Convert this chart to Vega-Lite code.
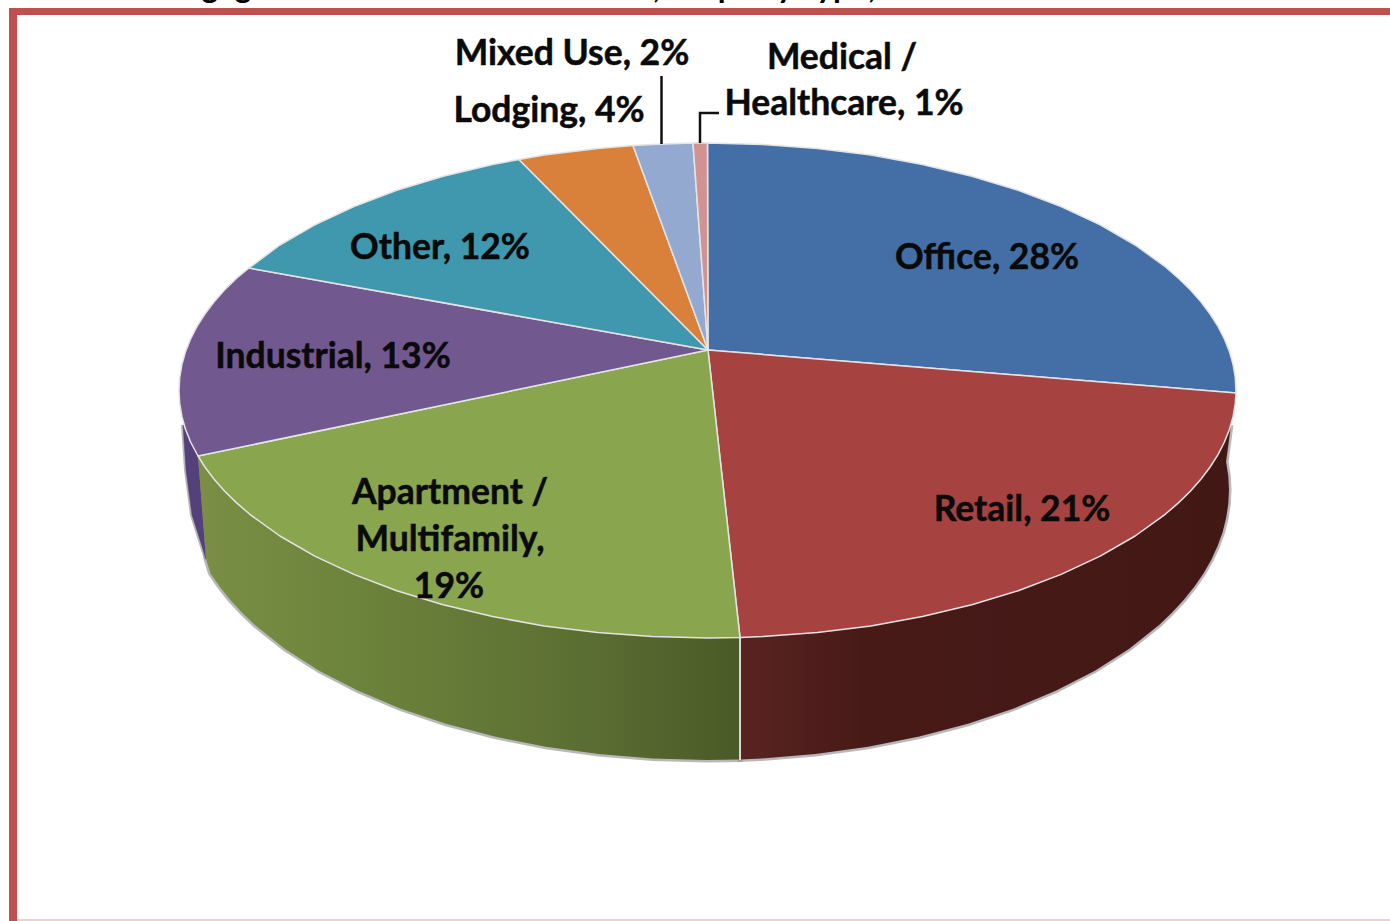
{"$schema":"https://vega.github.io/schema/vega-lite/v6.json","width":1390,"height":921,"padding":0,"autosize":{"type":"none"},"background":"#ffffff","view":{"stroke":null},
"datasets":{
"frame":[{"edge":"top","x":9,"x2":1390,"y":8,"y2":15},{"edge":"left","x":9,"x2":17,"y":8,"y2":921}],
"frameBase":[{"edge":"bottom","x":17,"x2":1390,"y":919,"y2":921}],
"faces":[
{"slice":"Office","seq":0,"x":708,"y":350},{"slice":"Office","seq":1,"x":707.5,"y":143},{"slice":"Office","seq":2,"x":762.7,"y":144.4},{"slice":"Office","seq":3,"x":817.4,"y":148.4},{"slice":"Office","seq":4,"x":870.8,"y":155.1},{"slice":"Office","seq":5,"x":922.4,"y":164.4},{"slice":"Office","seq":6,"x":971.8,"y":176.2},{"slice":"Office","seq":7,"x":1018.2,"y":190.3},{"slice":"Office","seq":8,"x":1061.1,"y":206.6},{"slice":"Office","seq":9,"x":1100.2,"y":224.9},{"slice":"Office","seq":10,"x":1135.1,"y":245},{"slice":"Office","seq":11,"x":1165.2,"y":266.7},{"slice":"Office","seq":11.5,"x":1178.4,"y":278.1},{"slice":"Office","seq":12,"x":1190.3,"y":289.8},{"slice":"Office","seq":12.5,"x":1200.9,"y":301.8},{"slice":"Office","seq":13,"x":1210.1,"y":314},{"slice":"Office","seq":13.5,"x":1218,"y":326.4},{"slice":"Office","seq":14,"x":1224.4,"y":339},{"slice":"Office","seq":14.5,"x":1229.5,"y":351.8},{"slice":"Office","seq":15,"x":1233.1,"y":364.6},{"slice":"Office","seq":15.5,"x":1235.3,"y":377.6},{"slice":"Office","seq":16,"x":1236,"y":393},{"slice":"Office","seq":17,"x":708,"y":350},
{"slice":"Retail","seq":0,"x":708,"y":350},{"slice":"Retail","seq":1,"x":1236,"y":393},{"slice":"Retail","seq":1.5,"x":1235.3,"y":403.4},{"slice":"Retail","seq":2,"x":1233.1,"y":416.4},{"slice":"Retail","seq":2.5,"x":1229.5,"y":429.2},{"slice":"Retail","seq":3,"x":1224.4,"y":442},{"slice":"Retail","seq":3.5,"x":1218,"y":454.6},{"slice":"Retail","seq":4,"x":1210.1,"y":467},{"slice":"Retail","seq":4.5,"x":1200.9,"y":479.2},{"slice":"Retail","seq":5,"x":1190.3,"y":491.2},{"slice":"Retail","seq":5.5,"x":1178.4,"y":502.9},{"slice":"Retail","seq":6,"x":1165.2,"y":514.3},{"slice":"Retail","seq":7,"x":1135.1,"y":536},{"slice":"Retail","seq":8,"x":1100.2,"y":556.1},{"slice":"Retail","seq":9,"x":1061.1,"y":574.4},{"slice":"Retail","seq":10,"x":1018.2,"y":590.7},{"slice":"Retail","seq":11,"x":971.8,"y":604.8},{"slice":"Retail","seq":12,"x":922.4,"y":616.6},{"slice":"Retail","seq":13,"x":870.8,"y":625.9},{"slice":"Retail","seq":14,"x":817.4,"y":632.6},{"slice":"Retail","seq":15,"x":762.7,"y":636.6},{"slice":"Retail","seq":16,"x":740,"y":637.6},{"slice":"Retail","seq":17,"x":708,"y":350},
{"slice":"Apartment / Multifamily","seq":0,"x":708,"y":350},{"slice":"Apartment / Multifamily","seq":1,"x":740,"y":637.6},{"slice":"Apartment / Multifamily","seq":2,"x":707.5,"y":638},{"slice":"Apartment / Multifamily","seq":3,"x":652.3,"y":636.6},{"slice":"Apartment / Multifamily","seq":4,"x":597.6,"y":632.6},{"slice":"Apartment / Multifamily","seq":5,"x":544.2,"y":625.9},{"slice":"Apartment / Multifamily","seq":6,"x":492.6,"y":616.6},{"slice":"Apartment / Multifamily","seq":7,"x":443.2,"y":604.8},{"slice":"Apartment / Multifamily","seq":8,"x":396.8,"y":590.7},{"slice":"Apartment / Multifamily","seq":9,"x":353.9,"y":574.4},{"slice":"Apartment / Multifamily","seq":10,"x":314.8,"y":556.1},{"slice":"Apartment / Multifamily","seq":11,"x":279.9,"y":536},{"slice":"Apartment / Multifamily","seq":12,"x":249.8,"y":514.3},{"slice":"Apartment / Multifamily","seq":12.5,"x":236.6,"y":502.9},{"slice":"Apartment / Multifamily","seq":13,"x":224.7,"y":491.2},{"slice":"Apartment / Multifamily","seq":13.5,"x":214.1,"y":479.2},{"slice":"Apartment / Multifamily","seq":14,"x":204.9,"y":467},{"slice":"Apartment / Multifamily","seq":15,"x":198,"y":456},{"slice":"Apartment / Multifamily","seq":16,"x":708,"y":350},
{"slice":"Industrial","seq":0,"x":708,"y":350},{"slice":"Industrial","seq":1,"x":198,"y":456},{"slice":"Industrial","seq":2,"x":190.6,"y":442},{"slice":"Industrial","seq":2.5,"x":185.5,"y":429.2},{"slice":"Industrial","seq":3,"x":181.9,"y":416.4},{"slice":"Industrial","seq":3.5,"x":179.7,"y":403.4},{"slice":"Industrial","seq":4,"x":179,"y":390.5},{"slice":"Industrial","seq":4.5,"x":179.7,"y":377.6},{"slice":"Industrial","seq":5,"x":181.9,"y":364.6},{"slice":"Industrial","seq":5.5,"x":185.5,"y":351.8},{"slice":"Industrial","seq":6,"x":190.6,"y":339},{"slice":"Industrial","seq":6.5,"x":197,"y":326.4},{"slice":"Industrial","seq":7,"x":204.9,"y":314},{"slice":"Industrial","seq":7.5,"x":214.1,"y":301.8},{"slice":"Industrial","seq":8,"x":224.7,"y":289.8},{"slice":"Industrial","seq":8.5,"x":236.6,"y":278.1},{"slice":"Industrial","seq":9,"x":249,"y":268},{"slice":"Industrial","seq":10,"x":708,"y":350},
{"slice":"Other","seq":0,"x":708,"y":350},{"slice":"Other","seq":1,"x":249,"y":268},{"slice":"Other","seq":2,"x":279.9,"y":245},{"slice":"Other","seq":3,"x":314.8,"y":224.9},{"slice":"Other","seq":4,"x":353.9,"y":206.6},{"slice":"Other","seq":5,"x":396.8,"y":190.3},{"slice":"Other","seq":6,"x":443.2,"y":176.2},{"slice":"Other","seq":7,"x":492.6,"y":164.4},{"slice":"Other","seq":8,"x":519,"y":159.5},{"slice":"Other","seq":9,"x":708,"y":350},
{"slice":"Lodging","seq":0,"x":708,"y":350},{"slice":"Lodging","seq":1,"x":519,"y":159.5},{"slice":"Lodging","seq":2,"x":544.2,"y":155.1},{"slice":"Lodging","seq":3,"x":597.6,"y":148.4},{"slice":"Lodging","seq":4,"x":633,"y":145.4},{"slice":"Lodging","seq":5,"x":708,"y":350},
{"slice":"Mixed Use","seq":0,"x":708,"y":350},{"slice":"Mixed Use","seq":1,"x":633,"y":145.4},{"slice":"Mixed Use","seq":2,"x":652.3,"y":144.4},{"slice":"Mixed Use","seq":3,"x":693,"y":143.1},{"slice":"Mixed Use","seq":4,"x":708,"y":350},
{"slice":"Medical / Healthcare","seq":0,"x":708,"y":350},{"slice":"Medical / Healthcare","seq":1,"x":693,"y":143.1},{"slice":"Medical / Healthcare","seq":2,"x":707.5,"y":143},{"slice":"Medical / Healthcare","seq":3,"x":708,"y":350}
],
"retailWall":[
{"seq":0,"x":1231,"y":425},{"seq":1,"x":1224.4,"y":442},{"seq":1.5,"x":1218,"y":454.6},{"seq":2,"x":1210.1,"y":467},{"seq":2.5,"x":1200.9,"y":479.2},{"seq":3,"x":1190.3,"y":491.2},{"seq":3.5,"x":1178.4,"y":502.9},{"seq":4,"x":1165.2,"y":514.3},{"seq":5,"x":1135.1,"y":536},{"seq":6,"x":1100.2,"y":556.1},{"seq":7,"x":1061.1,"y":574.4},{"seq":8,"x":1018.2,"y":590.7},{"seq":9,"x":971.8,"y":604.8},{"seq":10,"x":922.4,"y":616.6},{"seq":11,"x":870.8,"y":625.9},{"seq":12,"x":817.4,"y":632.6},{"seq":13,"x":762.7,"y":636.6},{"seq":14,"x":740,"y":637.6},{"seq":15,"x":740,"y":759.5},{"seq":16,"x":761.6,"y":758.5},{"seq":17,"x":815.5,"y":754.1},{"seq":18,"x":868.3,"y":746.8},{"seq":19,"x":919.3,"y":736.6},{"seq":20,"x":968,"y":723.8},{"seq":21,"x":1013.8,"y":708.4},{"seq":22,"x":1056.3,"y":690.6},{"seq":23,"x":1094.9,"y":670.7},{"seq":24,"x":1129.3,"y":648.7},{"seq":25,"x":1159.1,"y":625},{"seq":25.5,"x":1172.1,"y":612.6},{"seq":26,"x":1183.9,"y":599.8},{"seq":26.5,"x":1194.3,"y":586.8},{"seq":27,"x":1203.5,"y":573.4},{"seq":27.5,"x":1211.2,"y":559.9},{"seq":28,"x":1217.6,"y":546.1},{"seq":28.5,"x":1222.6,"y":532.2},{"seq":29,"x":1226.1,"y":518.2},{"seq":29.5,"x":1228.3,"y":504.1},{"seq":30,"x":1229,"y":490},{"seq":30.5,"x":1228.3,"y":475.9},{"seq":31,"x":1226.1,"y":461.8},{"seq":32,"x":1231,"y":425}
],
"apartmentWall":[
{"seq":0,"x":740,"y":637.6},{"seq":1,"x":707.5,"y":638},{"seq":2,"x":652.3,"y":636.6},{"seq":3,"x":597.6,"y":632.6},{"seq":4,"x":544.2,"y":625.9},{"seq":5,"x":492.6,"y":616.6},{"seq":6,"x":443.2,"y":604.8},{"seq":7,"x":396.8,"y":590.7},{"seq":8,"x":353.9,"y":574.4},{"seq":9,"x":314.8,"y":556.1},{"seq":10,"x":279.9,"y":536},{"seq":11,"x":249.8,"y":514.3},{"seq":11.5,"x":236.6,"y":502.9},{"seq":12,"x":224.7,"y":491.2},{"seq":12.5,"x":214.1,"y":479.2},{"seq":13,"x":204.9,"y":467},{"seq":14,"x":198,"y":456},{"seq":15,"x":206,"y":559},{"seq":16,"x":210.5,"y":573.4},{"seq":16.5,"x":219.7,"y":586.8},{"seq":17,"x":230.1,"y":599.8},{"seq":17.5,"x":241.9,"y":612.6},{"seq":18,"x":254.9,"y":625},{"seq":19,"x":284.7,"y":648.7},{"seq":20,"x":319.1,"y":670.7},{"seq":21,"x":357.7,"y":690.6},{"seq":22,"x":400.2,"y":708.4},{"seq":23,"x":446,"y":723.8},{"seq":24,"x":494.7,"y":736.6},{"seq":25,"x":545.7,"y":746.8},{"seq":26,"x":598.5,"y":754.1},{"seq":27,"x":652.4,"y":758.5},{"seq":28,"x":707,"y":760},{"seq":29,"x":740,"y":759.5},{"seq":30,"x":740,"y":637.6}
],
"industrialWall":[
{"seq":0,"x":198,"y":456},{"seq":1,"x":190.6,"y":442},{"seq":2,"x":183,"y":425},{"seq":3,"x":186,"y":470},{"seq":4,"x":192,"y":515},{"seq":5,"x":206,"y":559},{"seq":6,"x":198,"y":456}
],
"seam":[{"seq":0,"x":740,"y":638},{"seq":1,"x":740,"y":760}],
"leaders":[
{"leader":"Mixed Use","seq":0,"x":661.5,"y":76},{"leader":"Mixed Use","seq":1,"x":661.5,"y":144},
{"leader":"Medical / Healthcare","seq":0,"x":719,"y":113},{"leader":"Medical / Healthcare","seq":1,"x":700,"y":113},{"leader":"Medical / Healthcare","seq":2,"x":700,"y":143}
],
"labels":[
{"label":"Office, 28%","x":987,"y":258},{"label":"Retail, 21%","x":1022,"y":510},{"label":"Apartment /","x":450,"y":493},{"label":"Multifamily,","x":450,"y":540},{"label":"19%","x":449,"y":587},{"label":"Industrial, 13%","x":333,"y":357},{"label":"Other, 12%","x":440,"y":248},{"label":"Lodging, 4%","x":549,"y":111},{"label":"Mixed Use, 2%","x":572,"y":54},{"label":"Medical /","x":842,"y":58},{"label":"Healthcare, 1%","x":844,"y":104}
],
"title":[{"label":"Chart 1: Mortgage or Real Estate Investments, Property Type, Year-End 2010","x":8,"y":-2}]
},
"encoding":{
"x":{"field":"x","type":"quantitative","scale":{"domain":[0,1390],"nice":false,"zero":false},"axis":null},
"y":{"field":"y","type":"quantitative","scale":{"domain":[921,0],"nice":false,"zero":false},"axis":null},
"order":{"field":"seq","type":"quantitative"}
},
"layer":[
{"data":{"name":"frameBase"},"mark":{"type":"rect","color":"#F2CFCE"},"encoding":{"order":null,"x2":{"field":"x2"},"y2":{"field":"y2"}}},
{"data":{"name":"frame"},"mark":{"type":"rect","color":"#C0504D"},"encoding":{"order":null,"x2":{"field":"x2"},"y2":{"field":"y2"}}},
{"data":{"name":"title"},"mark":{"type":"text","font":"Lato","fontWeight":"bold","fontSize":32,"align":"left","baseline":"alphabetic","color":"#000000"},"encoding":{"order":null,"text":{"field":"label"}}},
{"data":{"name":"retailWall"},"mark":{"type":"line","stroke":"#9a9a9a","strokeWidth":5,"opacity":0.7}},
{"data":{"name":"apartmentWall"},"mark":{"type":"line","stroke":"#9a9a9a","strokeWidth":5,"opacity":0.7}},
{"data":{"name":"industrialWall"},"mark":{"type":"line","stroke":"#9a9a9a","strokeWidth":4,"opacity":0.7}},
{"data":{"name":"industrialWall"},"mark":{"type":"line","filled":true,"fill":"#54407A","stroke":"#54407A","strokeWidth":0.5}},
{"data":{"name":"apartmentWall"},"mark":{"type":"line","filled":true,"stroke":null,"fill":{"x1":0,"y1":0,"x2":1,"y2":0,"gradient":"linear","stops":[{"offset":0,"color":"#7A8F45"},{"offset":0.3,"color":"#6C833B"},{"offset":0.7,"color":"#5C6F33"},{"offset":1,"color":"#4A5A27"}]}}},
{"data":{"name":"retailWall"},"mark":{"type":"line","filled":true,"stroke":null,"fill":{"x1":0,"y1":0,"x2":1,"y2":0,"gradient":"linear","stops":[{"offset":0,"color":"#5A2322"},{"offset":0.25,"color":"#471A18"},{"offset":1,"color":"#421815"}]}}},
{"data":{"name":"seam"},"mark":{"type":"line","stroke":"#D8D8D8","strokeWidth":2}},
{"data":{"name":"faces"},"mark":{"type":"line","filled":true,"stroke":"#E4E4E4","strokeWidth":1.5,"strokeJoin":"round"},"encoding":{"color":{"field":"slice","type":"nominal","legend":null,"scale":{"domain":["Office","Retail","Apartment / Multifamily","Industrial","Other","Lodging","Mixed Use","Medical / Healthcare"],"range":["#446FA6","#A6423F","#89A54E","#71588F","#4098AF","#D9803A","#93A9CF","#D19392"]}}}},
{"data":{"name":"leaders"},"mark":{"type":"line","stroke":"#111111","strokeWidth":2.5},"encoding":{"detail":{"field":"leader"}}},
{"data":{"name":"labels"},"mark":{"type":"text","font":"Lato","fontWeight":"bold","fontSize":35.5,"align":"center","baseline":"middle","color":"#0A0A0A","stroke":"#0A0A0A","strokeWidth":0.5},"encoding":{"order":null,"text":{"field":"label"}}}
]}
